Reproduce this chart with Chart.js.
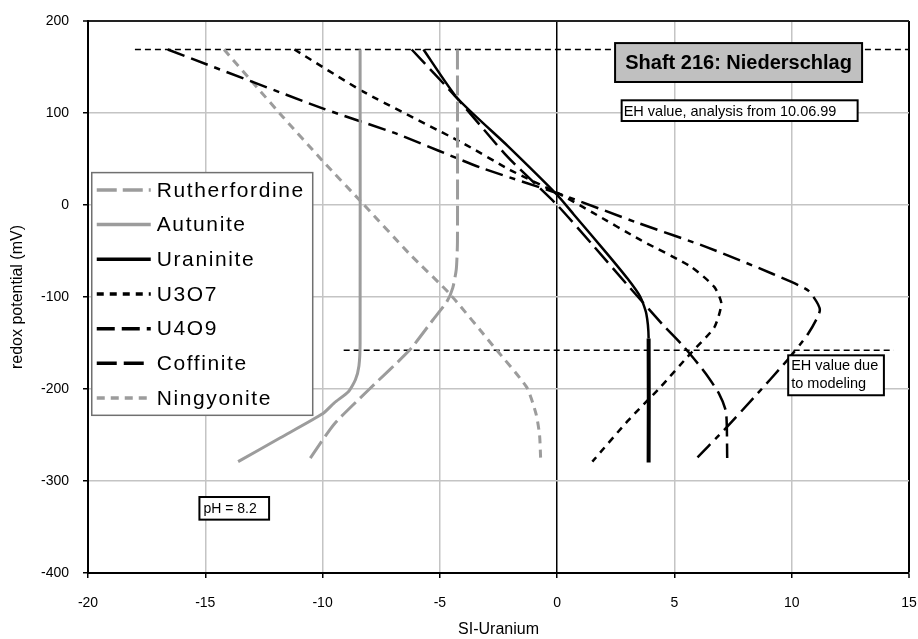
<!DOCTYPE html>
<html>
<head>
<meta charset="utf-8">
<script src="https://cdn.jsdelivr.net/npm/chart.js@4.4.1/dist/chart.umd.min.js"></script>
<style>
  html, body { margin: 0; padding: 0; background: #fff; }
</style>
</head>
<body>
<canvas id="ehChart" width="918" height="639"></canvas>
<script>
// Global font settings
Chart.defaults.font.family = '"Liberation Sans", Arial, sans-serif';
Chart.defaults.color = '#000';

// Series: [SI-Uranium, redox potential (mV)]
const rutherfordine = [[-4.25, 169], [-4.25, -40], [-4.3, -70], [-4.45, -90], [-4.7, -105], [-5.3, -125], [-6.3, -158], [-8.0, -200], [-9.5, -238], [-10.6, -278]];
const autunite = [[-8.4, 169], [-8.4, -150], [-8.45, -175], [-8.6, -190], [-8.9, -203], [-9.5, -215], [-10.0, -227], [-11.8, -253], [-13.6, -279]];
const uraninite = [[-5.7, 169], [-4.25, 116], [-2.1, 64], [0, 11], [0.7, -10], [2.1, -52], [3.0, -80], [3.55, -100], [3.8, -118], [3.9, -145], [3.9, -280]];
const u3o7 = [[-11.2, 169], [-8.25, 123], [-4.0, 67], [-2.0, 38], [0.1, 12], [1.5, -8], [3.55, -38], [5.7, -67], [6.7, -89], [7.0, -107], [6.7, -133], [5.7, -161], [4.4, -198], [3.0, -235], [1.5, -279]];
const u4o9 = [[-16.6, 169], [-10.0, 105], [-6.8, 77], [-3.3, 41], [0.1, 12], [3.5, -20], [6.4, -46], [9.2, -75], [10.7, -93], [11.2, -114], [10.7, -140], [9.8, -169], [8.4, -209], [7.1, -245], [5.8, -279]];
const coffinite = [[-6.2, 169], [-4.3, 117], [-2.1, 52], [0, 0], [1.5, -43], [3.0, -87], [4.5, -130], [5.4, -154], [6.3, -182], [6.9, -205], [7.2, -225], [7.25, -275]];
const ningyonite = [[-14.2, 169], [-12.8, 128], [-11.7, 96], [-10.0, 48], [-8.3, 2], [-6.3, -53], [-4.6, -96], [-2.7, -154], [-1.3, -198], [-0.9, -227], [-0.75, -250], [-0.7, -278]];

// Horizontal EH reference lines
const ehMeasured = [[-18, 169], [15, 169]];
const ehModel = [[-9.1, -158], [14.35, -158]];

const SERIES_NAMES = ['Rutherfordine', 'Autunite', 'Uraninite', 'U3O7', 'U4O9', 'Coffinite', 'Ningyonite'];
const SERIES_DATA = [rutherfordine, autunite, uraninite, u3o7, u4o9, coffinite, ningyonite];

const X_TICKS = [-20, -15, -10, -5, 0, 5, 10, 15];
const Y_TICKS = [-400, -300, -200, -100, 0, 100, 200];

// Styles
const GRAY = '#9c9c9c';
const GRID = '#c4c4c4';
const STYLES = {
    'Rutherfordine': { color: GRAY, width: 3, dash: [20, 6] },
    'Autunite': { color: GRAY, width: 3, dash: [] },
    'Uraninite': { color: '#000', width: 2.5, dash: [] },
    'U3O7': { color: '#000', width: 2.5, dash: [7, 6] },
    'U4O9': { color: '#000', width: 2.5, dash: [18, 7, 18, 7, 6, 7] },
    'Coffinite': { color: '#000', width: 2.5, dash: [20, 7] },
    'Ningyonite': { color: GRAY, width: 3, dash: [8, 6] }
};

function toPoints(pairs) {
    return pairs.map(([x, y]) => ({ x: x, y: y }));
}

const datasets = SERIES_NAMES.map((name, i) => {
    const st = STYLES[name];
    const ds = {
        label: name,
        data: toPoints(SERIES_DATA[i]),
        borderColor: st.color,
        borderWidth: st.width,
        borderDash: st.dash,
        showLine: true,
        pointRadius: 0,
        tension: 0.2,
        fill: false
    };
    if (name === 'Uraninite') {
        // the lower vertical stretch is drawn heavier in the original
        ds.segment = { borderWidth: c => (c.p0.parsed.y <= -140 ? 4 : 2.5) };
    }
    return ds;
});

[ehMeasured, ehModel].forEach((line, i) => {
    datasets.push({
        label: 'eh' + i,
        data: toPoints(line),
        borderColor: '#000',
        borderWidth: 1.5,
        borderDash: [6, 4],
        showLine: true,
        pointRadius: 0,
        fill: false
    });
});

// Text boxes and legend, placed in data coordinates
const annotationBoxes = {
    id: 'annotationBoxes',
    afterDatasetsDraw(chart) {
        const { ctx, scales: { x, y } } = chart;

        function box(x0, y0, x1, y1, fill, stroke, lw) {
            const l = x.getPixelForValue(x0), r = x.getPixelForValue(x1);
            const t = y.getPixelForValue(y0), b = y.getPixelForValue(y1);
            ctx.save();
            ctx.fillStyle = fill;
            ctx.fillRect(l, t, r - l, b - t);
            ctx.strokeStyle = stroke;
            ctx.lineWidth = lw;
            ctx.strokeRect(l, t, r - l, b - t);
            ctx.restore();
            return { l, r, t, b };
        }

        ctx.save();
        ctx.fillStyle = '#000';
        ctx.textBaseline = 'middle';

        // title box
        let bx = box(2.47, 176, 13.0, 133.7, '#c0c0c0', '#000', 2);
        ctx.font = 'bold 20px "Liberation Sans", Arial, sans-serif';
        ctx.textAlign = 'center';
        ctx.fillText('Shaft 216: Niederschlag', (bx.l + bx.r) / 2, (bx.t + bx.b) / 2 + 1);

        ctx.textAlign = 'left';
        ctx.font = '14.5px "Liberation Sans", Arial, sans-serif';
        bx = box(2.75, 113.8, 12.81, 91.3, '#fff', '#000', 2);
        ctx.fillText('EH value, analysis from 10.06.99', bx.l + 2, (bx.t + bx.b) / 2 + 1);

        bx = box(9.85, -163.4, 13.93, -206.8, '#fff', '#000', 2);
        ctx.fillText('EH value due', bx.l + 3, bx.t + 11);
        ctx.fillText('to modeling', bx.l + 3, bx.t + 29);

        ctx.font = '14px "Liberation Sans", Arial, sans-serif';
        bx = box(-15.25, -317.4, -12.28, -342, '#fff', '#000', 2);
        ctx.fillText('pH = 8.2', bx.l + 4, (bx.t + bx.b) / 2 + 1);

        // legend
        bx = box(-19.84, 35.2, -10.42, -228.6, '#fff', '#707070', 1.5);
        const rowH = (bx.b - bx.t) / SERIES_NAMES.length;
        ctx.font = '21px "Liberation Sans", Arial, sans-serif';
        ctx.letterSpacing = '1.6px';
        SERIES_NAMES.forEach((name, i) => {
            const st = STYLES[name];
            const cy = bx.t + rowH * (i + 0.5);
            ctx.save();
            ctx.strokeStyle = st.color;
            ctx.lineWidth = 3.5;
            ctx.setLineDash(st.dash);
            ctx.beginPath();
            ctx.moveTo(bx.l + 5, cy);
            ctx.lineTo(bx.l + 59, cy);
            ctx.stroke();
            ctx.restore();
            ctx.fillText(name, bx.l + 65, cy + 1);
        });
        ctx.restore();
    }
};

new Chart(document.getElementById('ehChart'), {
    type: 'scatter',
    data: { datasets: datasets },
    options: {
        responsive: false,
        animation: false,
        devicePixelRatio: 1,
        events: [],
        layout: { padding: { left: 0, top: 21, right: 9, bottom: 0 } },
        plugins: {
            legend: { display: false },
            tooltip: { enabled: false }
        },
        scales: {
            x: {
                type: 'linear',
                min: -20,
                max: 15,
                afterBuildTicks: s => { s.ticks = X_TICKS.map(v => ({ value: v })); },
                afterFit: s => {
                    s.height = 66;
                    s.paddingLeft = 0;
                    s.paddingRight = 0;
                },
                ticks: { font: { size: 14 }, padding: 17 },
                grid: {
                    color: c => ([-20, 0, 15].includes(c.tick.value) ? '#000' : GRID),
                    lineWidth: c => (c.tick.value === 15 ? 2 : 1.5),
                    tickColor: '#000',
                    tickLength: 5,
                    tickWidth: 1.5
                },
                border: { color: '#000', width: 2 },
                title: { display: true, text: 'SI-Uranium', font: { size: 16 }, padding: { top: 0, bottom: 0 } }
            },
            y: {
                type: 'linear',
                min: -400,
                max: 200,
                afterBuildTicks: s => { s.ticks = Y_TICKS.map(v => ({ value: v })); },
                afterFit: s => {
                    s.width = 88;
                    s.paddingTop = 0;
                    s.paddingBottom = 0;
                },
                ticks: { font: { size: 14 }, padding: 14 },
                grid: {
                    color: c => (c.tick.value === 200 ? '#222' : GRID),
                    lineWidth: c => (c.tick.value === 200 ? 2 : 1.5),
                    tickColor: '#000',
                    tickLength: 5,
                    tickWidth: 1.5
                },
                border: { color: '#000', width: 2 },
                title: { display: true, text: 'redox potential (mV)', font: { size: 16 }, padding: { top: 8, bottom: 0 } }
            }
        }
    },
    plugins: [annotationBoxes]
});
</script>
</body>
</html>
